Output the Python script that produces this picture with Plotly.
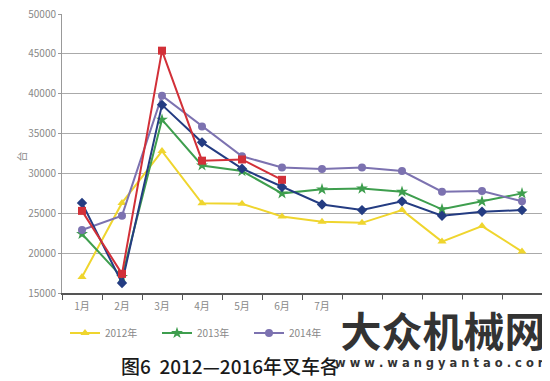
import plotly.graph_objects as go

months = ["1月", "2月", "3月", "4月", "5月", "6月", "7月", "8月", "9月", "10月", "11月", "12月"]
y2012 = [17000, 26300, 32800, 26250, 26200, 24600, 23950, 23800, 25400, 21450, 23400, 20200]
y2013 = [22400, 17000, 36750, 31000, 30300, 27500, 28000, 28100, 27700, 25500, 26500, 27500]
y2014 = [22900, 24700, 39750, 35900, 32150, 30750, 30550, 30750, 30300, 27700, 27800, 26500]
y2015 = [26300, 16250, 38600, 33900, 30600, 28300, 26100, 25400, 26500, 24700, 25200, 25400]
y2016 = [25300, 17400, 45400, 31600, 31750, 29200]
series_names = ["2012年", "2013年", "2014年", "2015年", "2016年"]
y_ticks = [15000, 20000, 25000, 30000, 35000, 40000, 45000, 50000]

colors = ["#EFD52E", "#3E9E4E", "#7C72B0", "#243C82", "#D23038"]
symbols = ["triangle-up", "star", "circle", "diamond", "square"]
data = [y2012, y2013, y2014, y2015, y2016]

# page body adds an 8px offset; work in screen pixels and convert
OFF = 8
W, H = 550 - OFF, 381 - OFF
SL, SR, ST, SB = 62, 542, 14, 293  # plot area in screen pixels
L, T = SL - OFF, ST - OFF
R = W - (SR - OFF)
B = H - (SB - OFF)
PW, PH = SR - SL, SB - ST


def px(x):
    return (x - SL) / PW


def py(y):
    return (SB - y) / PH


fig = go.Figure()
for name, vals, c, s in zip(series_names, data, colors, symbols):
    fig.add_trace(go.Scatter(
        x=months[:len(vals)], y=vals, name=name, mode="lines+markers",
        line=dict(color=c, width=2),
        marker=dict(symbol=s, size=8 if s != "star" else 9, color=c),
    ))

font_cjk = "Noto Sans CJK SC"
fig.update_layout(
    width=W, height=H,
    margin=dict(l=L, r=R, t=T, b=B, autoexpand=False),
    paper_bgcolor="white", plot_bgcolor="white",
    font=dict(family=font_cjk, size=10, color="#777"),
    showlegend=True,
    legend=dict(orientation="h", xref="container", yref="container",
                x=(65 - OFF) / W, xanchor="left", y=1 - (333 - OFF) / H, yanchor="middle",
                entrywidth=47, entrywidthmode="pixels", itemwidth=30,
                font=dict(size=10, color="#888"), bgcolor="rgba(0,0,0,0)"),
    xaxis=dict(type="category", categoryorder="array", categoryarray=months,
               tickson="boundaries", ticks="outside", ticklen=5, tickcolor="#555",
               showline=True, linecolor="#555", linewidth=1.5, showgrid=False,
               automargin=False, ticklabelstandoff=3,
               tickfont=dict(size=10, color="#888"), range=[-0.5, 11.5]),
    yaxis=dict(range=[15000, 50000], tickvals=y_ticks, tickformat="d",
               ticks="outside", ticklen=3, automargin=False, ticklabeloverflow="allow",
               tickcolor="#999", showline=True, linecolor="#999", linewidth=1,
               showgrid=True, gridcolor="#aaa", gridwidth=1, zeroline=False,
               tickfont=dict(size=10, color="#888")),
)

# y-axis unit label
fig.add_annotation(text="台", xref="paper", yref="paper", x=px(11), y=py(157),
                   showarrow=False, textangle=-90, font=dict(size=10, color="#888"))

# watermark (white box over part of the axis labels and legend)
fig.add_annotation(text="大众机械网", xref="paper", yref="paper",
                   x=px(338), xanchor="left", y=py(299), yanchor="top",
                   showarrow=False, bgcolor="white", width=206, height=56,
                   align="center", valign="middle",
                   font=dict(family=font_cjk, size=41, color="#333", weight="bold"))

fig.add_annotation(text="图6  2012—2016年叉车各", xref="paper", yref="paper",
                   x=px(119), xanchor="left", y=py(365), yanchor="middle", showarrow=False,
                   font=dict(family=font_cjk, size=19, color="#1a1a1a", weight=500))

fig.add_annotation(text="w w w . w a n g y a n t a o . c o m", xref="paper", yref="paper",
                   x=px(442), xanchor="center", y=py(363), yanchor="middle", showarrow=False,
                   font=dict(family="DejaVu Sans", size=11.5, color="#333", weight="bold"))

fig.write_html("out.html")
